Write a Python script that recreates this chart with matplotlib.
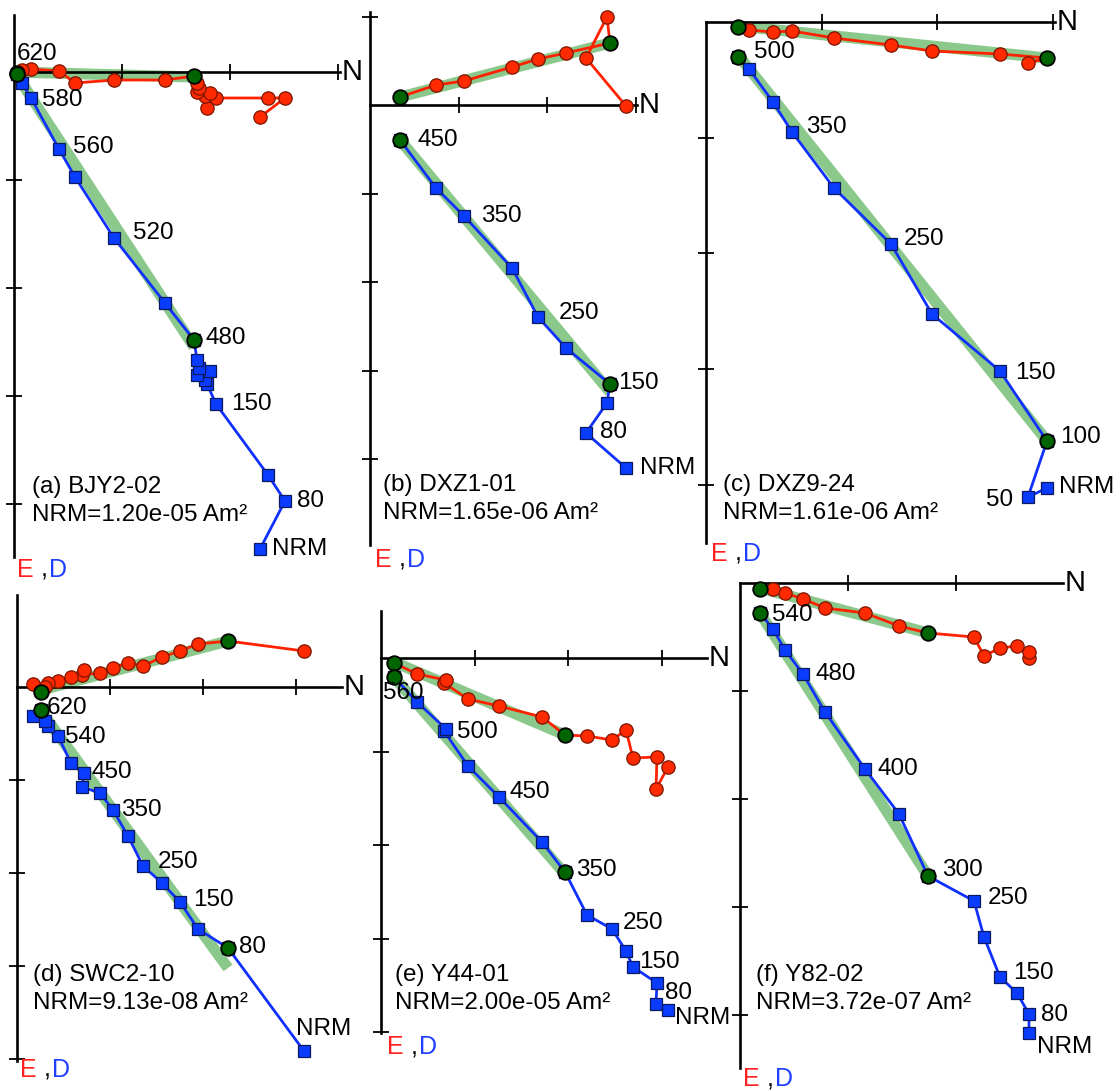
import numpy as np
import matplotlib.pyplot as plt

plt.rcParams['font.family'] = ['Liberation Sans', 'DejaVu Sans']

W, H = 1120, 1091

# components per demagnetisation step, NRM first (arbitrary units)
# N: north, E: east (down = +), D: down
a_N = [246, 271, 254, 202, 193, 191, 183, 196, 185, 183, 180, 151, 100, 61, 45, 17, 8, 3]
a_E = [45, 26, 26, 26, 36, 24, 20, 21, 16, 11, 4, 8, 8, 11, -1, -3, -2, 1]
a_D = [477, 429, 403, 332, 312, 308, 303, 299, 296, 288, 268, 231, 166, 105, 77, 26, 11, 2]
a_green = [10, 17]
a_fitN, a_fitE, a_fitD = [2, 180], [0, 5], [2, 275]

b_N = [256, 216, 237, 240, 196, 168, 142, 94, 66, 30]
b_E = [1, -47, -88, -62, -52, -46, -38, -24, -20, -8]
b_D = [363, 328, 298, 279, 243, 212, 163, 111, 83, 35]
b_green = [3, 9]
b_fitN, b_fitE, b_fitD = [30, 240], [-8, -62], [35, 287]

c_N = [341, 322, 341, 294, 226, 185, 128, 86, 67, 43, 32]
c_E = [36, 41, 36, 32, 29, 23, 16, 9, 10, 8, 5]
c_D = [466, 475, 419, 349, 292, 222, 166, 110, 80, 47, 35]
c_green = [2, 10]
c_fitN, c_fitE, c_fitD = [32, 341], [4, 36], [33, 419]

d_N = [287, 211, 181, 163, 145, 126, 111, 96, 83, 65, 67, 54, 41, 31, 28, 24, 16]
d_E = [-36, -46, -43, -36, -30, -21, -24, -19, -14, -12, -17, -10, -6, -4, 0, 5, -3]
d_D = [364, 261, 242, 215, 196, 179, 149, 123, 106, 100, 86, 76, 49, 39, 34, 23, 29]
d_green = [1, 15]
d_fitN, d_fitE, d_fitD = [24, 211], [3, -46], [24, 281]

e_N = [287, 275, 276, 252, 245, 231, 206, 184, 161, 118, 87, 63, 65, 36, 13]
e_E = [109, 131, 99, 100, 72, 82, 78, 77, 59, 48, 41, 25, 22, 16, 5]
e_D = [352, 346, 325, 309, 293, 271, 257, 214, 184, 139, 108, 73, 71, 44, 19]
e_green = [7, 14]
e_fitN, e_fitE, e_fitD = [13, 184], [4, 77], [19, 216]

f_N = [289, 289, 277, 260, 244, 234, 188, 159, 125, 85, 63, 45, 33, 20]
f_E = [75, 69, 63, 65, 73, 54, 50, 43, 30, 25, 16, 10, 6, 6]
f_D = [450, 431, 410, 394, 354, 318, 293, 231, 186, 129, 91, 67, 46, 30]
f_green = [6, 13]
f_fitN, f_fitE, f_fitD = [20, 188], [5, 50], [30, 293]

names = ['(a) BJY2-02', '(b) DXZ1-01', '(c) DXZ9-24', '(d) SWC2-10', '(e) Y44-01', '(f) Y82-02']
nrm_values = ['1.20e-05', '1.65e-06', '1.61e-06', '9.13e-08', '2.00e-05', '3.72e-07']

# step labels: (step index, text)
a_steps = [(0, 'NRM'), (1, '80'), (3, '150'), (10, '480'), (12, '520'), (14, '560'), (15, '580'), (17, '620')]
b_steps = [(0, 'NRM'), (1, '80'), (3, '150'), (5, '250'), (7, '350'), (9, '450')]
c_steps = [(0, 'NRM'), (1, '50'), (2, '100'), (3, '150'), (5, '250'), (7, '350'), (10, '500')]
d_steps = [(0, 'NRM'), (1, '80'), (3, '150'), (5, '250'), (7, '350'), (10, '450'), (12, '540'), (15, '620')]
e_steps = [(0, 'NRM'), (1, '80'), (3, '150'), (5, '250'), (7, '350'), (9, '450'), (11, '500'), (14, '560')]
f_steps = [(0, 'NRM'), (1, '80'), (3, '150'), (5, '250'), (6, '300'), (8, '400'), (10, '480'), (13, '540')]

# label placement (dx, dy in pixels, image-down positive, ha)
a_place = [(12, 0, 'left'), (12, 0, 'left'), (15, 0, 'left'), (11, -2, 'left'), (19, -5, 'left'),
           (14, -2, 'left'), (11, 2, 'left'), (0, -20, 'left')]
b_place = [(14, 0, 'left'), (14, -1, 'left'), (8, -1, 'left'), (21, -4, 'left'), (17, 0, 'left'), (17, 0, 'left')]
c_place = [(12, -1, 'left'), (-15, 3, 'right'), (13, -4, 'left'), (15, 2, 'left'), (13, -5, 'left'),
           (14, -5, 'left'), (16, -5, 'left')]
d_place = [(20, -22, 'center'), (11, -1, 'left'), (13, -2, 'left'), (15, -4, 'left'), (8, 0, 'left'),
           (8, -1, 'left'), (7, 1, 'left'), (6, -2, 'left')]
e_place = [(7, 8, 'left'), (9, -11, 'left'), (6, -5, 'left'), (11, -6, 'left'), (11, -2, 'left'),
           (11, -5, 'left'), (13, 1, 'left'), (9, 16, 'center')]
f_place = [(8, 14, 'left'), (12, 1, 'left'), (13, -4, 'left'), (14, -3, 'left'), (14, -6, 'left'),
           (12, 0, 'left'), (13, 0, 'left'), (12, 2, 'left')]

# panel frame: origin px, vertical axis top/bottom, horizontal length, tick step
origins = [(14, 72), (370, 105), (706, 22), (17, 687), (381, 658), (740, 583)]
vtops = [-57, -93, 0, -92, -47, 0]
vbots = [485, 440, 521, 374, 375, 485]
hends = [326, 267, 349, 325, 326, 323]
tick_steps = [108, 88.5, 115.7, 93, 93.5, 108]
text_xy = [(18, 415), (13, 380), (17, 463), (16, 288), (14, 317), (16, 392)]
ed_xy = [(3, 498), (5, 455), (5, 532), (3, 383), (6, 389), (3, 496)]

RED, RED_LINE = '#ff2a00', '#ff2200'
BLUE, BLUE_LINE = '#0a3cff', '#1030ff'
GREEN_BAND = '#7fc27f'
GREEN_DOT = '#006400'
FS_LABEL = 17.5
FS_TEXT = 17.5

panels = [
    (a_N, a_E, a_D, a_green, a_fitN, a_fitE, a_fitD, a_steps, a_place),
    (b_N, b_E, b_D, b_green, b_fitN, b_fitE, b_fitD, b_steps, b_place),
    (c_N, c_E, c_D, c_green, c_fitN, c_fitE, c_fitD, c_steps, c_place),
    (d_N, d_E, d_D, d_green, d_fitN, d_fitE, d_fitD, d_steps, d_place),
    (e_N, e_E, e_D, e_green, e_fitN, e_fitE, e_fitD, e_steps, e_place),
    (f_N, f_E, f_D, f_green, f_fitN, f_fitE, f_fitD, f_steps, f_place),
]

fig = plt.figure(figsize=(W / 100, H / 100), dpi=100)

for k, (N, E, D, green, fitN, fitE, fitD, steps, place) in enumerate(panels):
    ox, oy = origins[k]
    ax = fig.add_axes([0, 0, 1, 1])
    ax.set_xlim(-ox, W - ox)
    ax.set_ylim(H - oy, -oy)
    ax.patch.set_visible(False)
    for s in ['top', 'right']:
        ax.spines[s].set_visible(False)
    ax.spines['left'].set_position(('data', 0))
    ax.spines['bottom'].set_position(('data', 0))
    ax.spines['left'].set_bounds(vtops[k], vbots[k])
    ax.spines['bottom'].set_bounds(0, hends[k])
    for s in ['left', 'bottom']:
        ax.spines[s].set_linewidth(1.9)
    t = tick_steps[k]
    xt = [t * i for i in range(1, 10) if t * i <= hends[k] + 0.5]
    yt = [t * i for i in range(-3, 10) if i != 0 and vtops[k] <= t * i <= vbots[k]]
    ax.set_xticks(xt)
    ax.set_yticks(yt)
    ax.tick_params(direction='inout', length=11, width=1.3, labelbottom=False, labelleft=False)

    N = np.array(N); E = np.array(E); D = np.array(D)
    ax.plot(fitN, fitE, color=GREEN_BAND, lw=8, alpha=0.9, solid_capstyle='butt', zorder=1)
    ax.plot(fitN, fitD, color=GREEN_BAND, lw=8, alpha=0.9, solid_capstyle='butt', zorder=1)
    ax.plot(N, D, '-', color=BLUE_LINE, lw=2, zorder=2)
    ax.plot(N, D, 's', ms=8.3, mfc=BLUE, mec='#0a1a60', mew=0.9, zorder=3)
    ax.plot(N, E, '-', color=RED_LINE, lw=2, zorder=2)
    ax.plot(N, E, 'o', ms=9.6, mfc=RED, mec='#7a1500', mew=0.9, zorder=3)
    ax.plot(N[green], E[green], 'o', ms=10.5, mfc=GREEN_DOT, mec='black', mew=1.3, zorder=4)
    ax.plot(N[green], D[green], 'o', ms=10.5, mfc=GREEN_DOT, mec='black', mew=1.3, zorder=4)

    for (i, txt), (dx, dy, ha) in zip(steps, place):
        ax.annotate(txt, (N[i], D[i]), xytext=(dx, -dy), textcoords='offset pixels',
                    ha=ha, va='center', fontsize=FS_LABEL, zorder=5)

    ax.text(hends[k] + 2, 0, 'N', fontsize=21, ha='left', va='center')

    tx, ty = text_xy[k]
    ax.text(tx, ty, names[k], fontsize=FS_TEXT, ha='left', va='center')
    ax.text(tx, ty + 28, 'NRM=' + nrm_values[k] + ' Am\u00b2', fontsize=FS_TEXT, ha='left', va='center')

    ex, ey = ed_xy[k]
    ax.text(ex, ey, 'E', color='#ff2020', fontsize=18, ha='left', va='center')
    ax.annotate(',', (ex, ey), xytext=(24, 0), textcoords='offset pixels', fontsize=18, ha='left', va='center')
    ax.annotate('D', (ex, ey), xytext=(32, 0), textcoords='offset pixels', color='#2040ff',
                fontsize=18, ha='left', va='center')

fig.savefig('out.png', dpi=100)
